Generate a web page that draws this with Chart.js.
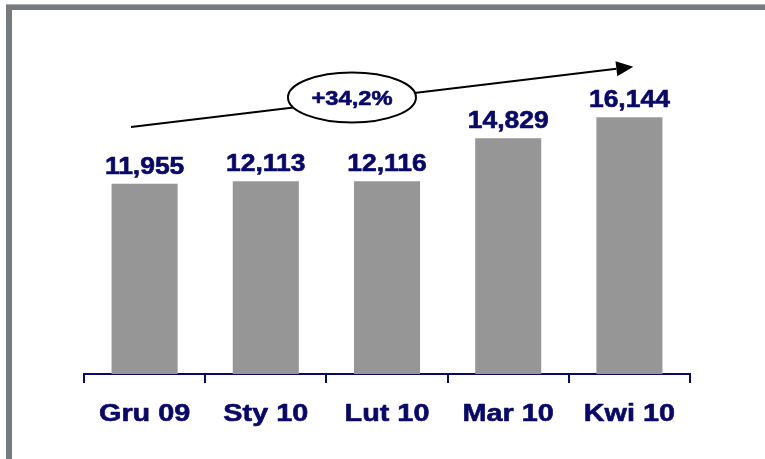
<!DOCTYPE html>
<html>
<head>
<meta charset="utf-8">
<script src="https://cdn.jsdelivr.net/npm/chart.js@4"></script>
<style>
  html, body { margin: 0; padding: 0; background: #ffffff; }
  canvas { display: block; }
</style>
</head>
<body>
<canvas id="c" width="765" height="459"></canvas>
<script>
const categories = ['Gru 09', 'Sty 10', 'Lut 10', 'Mar 10', 'Kwi 10'];
const values = [11955, 12113, 12116, 14829, 16144];
const growthLabel = '+34,2%';

const NAVY = '#08086a';
const BAR = '#969696';
const FRAME = '#787b7e';
const FONT = "'Liberation Sans', Arial, 'DejaVu Sans', sans-serif";

function drawStretched(ctx, text, x, y, size, sx) {
  ctx.save();
  ctx.font = 'bold ' + size + 'px ' + FONT;
  ctx.textAlign = 'center';
  ctx.textBaseline = 'alphabetic';
  ctx.fillStyle = NAVY;
  ctx.strokeStyle = NAVY;
  ctx.lineWidth = 0.6;
  ctx.lineJoin = 'round';
  ctx.translate(x, y);
  ctx.scale(sx, 1);
  ctx.fillText(text, 0, 0);
  ctx.strokeText(text, 0, 0);
  ctx.restore();
}

const framePlugin = {
  id: 'frame',
  beforeDraw(chart) {
    const ctx = chart.ctx;
    ctx.save();
    ctx.fillStyle = '#ffffff';
    ctx.fillRect(0, 0, chart.width, chart.height);
    ctx.fillStyle = FRAME;
    ctx.fillRect(6, 4, chart.width - 6, 6);
    ctx.fillRect(6, 4, 6, chart.height - 4);
    ctx.fillStyle = '#a9abad';
    ctx.fillRect(6, 4, chart.width - 6, 1);
    ctx.restore();
  }
};

const textLabels = {
  id: 'textLabels',
  afterDraw(chart) {
    const ctx = chart.ctx;
    const meta = chart.getDatasetMeta(0);
    const xs = chart.scales.x;
    meta.data.forEach((bar, i) => {
      drawStretched(ctx, values[i].toLocaleString('en-US'), bar.x, bar.y - 10, 23, 1.15);
    });
    categories.forEach((c, i) => {
      drawStretched(ctx, c, xs.getPixelForTick(i), chart.chartArea.bottom + 47, 24, 1.2);
    });
  }
};

const growthArrow = {
  id: 'growthArrow',
  afterDatasetsDraw(chart) {
    const ctx = chart.ctx;
    const xs = chart.scales.x, ys = chart.scales.y;
    // anchored in data space (category index, value)
    const x0 = xs.getPixelForValue(-0.112), y0 = ys.getPixelForValue(15530);
    const x1 = xs.getPixelForValue(4.032), y1 = ys.getPixelForValue(19320);
    const cx = xs.getPixelForValue(1.711), cy = ys.getPixelForValue(17390);
    ctx.save();
    ctx.strokeStyle = '#000000';
    ctx.fillStyle = '#000000';
    ctx.lineWidth = 2;
    const ang = Math.atan2(y1 - y0, x1 - x0);
    const headLen = 17, headHalf = 7.5;
    const bx = x1 - headLen * Math.cos(ang), by = y1 - headLen * Math.sin(ang);
    ctx.beginPath();
    ctx.moveTo(x0, y0);
    ctx.lineTo(bx, by);
    ctx.stroke();
    ctx.beginPath();
    ctx.moveTo(x1, y1);
    ctx.lineTo(bx + headHalf * Math.sin(ang), by - headHalf * Math.cos(ang));
    ctx.lineTo(bx - headHalf * Math.sin(ang), by + headHalf * Math.cos(ang));
    ctx.closePath();
    ctx.fill();
    ctx.beginPath();
    ctx.ellipse(cx, cy, 64, 25, 0, 0, Math.PI * 2);
    ctx.fillStyle = '#ffffff';
    ctx.fill();
    ctx.lineWidth = 2;
    ctx.stroke();
    ctx.restore();
    drawStretched(ctx, growthLabel, cx, cy + 7.5, 21, 1.13);
  }
};

new Chart(document.getElementById('c'), {
  type: 'bar',
  data: {
    labels: categories,
    datasets: [{
      data: values,
      backgroundColor: BAR,
      borderWidth: 0,
      categoryPercentage: 1.0,
      barPercentage: 0.545
    }]
  },
  options: {
    responsive: false,
    animation: false,
    devicePixelRatio: 1,
    layout: { padding: { left: 84, right: 75, top: 40, bottom: 0 } },
    plugins: { legend: { display: false }, tooltip: { enabled: false }, title: { display: false } },
    scales: {
      x: {
        offset: true,
        afterFit(scale) { scale.height = 85; },
        border: { display: true, color: NAVY, width: 2 },
        grid: {
          offset: true,
          drawOnChartArea: false,
          drawTicks: true,
          tickLength: 9,
          color: NAVY,
          lineWidth: 2
        },
        ticks: { display: false }
      },
      y: {
        display: false,
        min: 0,
        max: 21000
      }
    }
  },
  plugins: [framePlugin, growthArrow, textLabels]
});
</script>
</body>
</html>
